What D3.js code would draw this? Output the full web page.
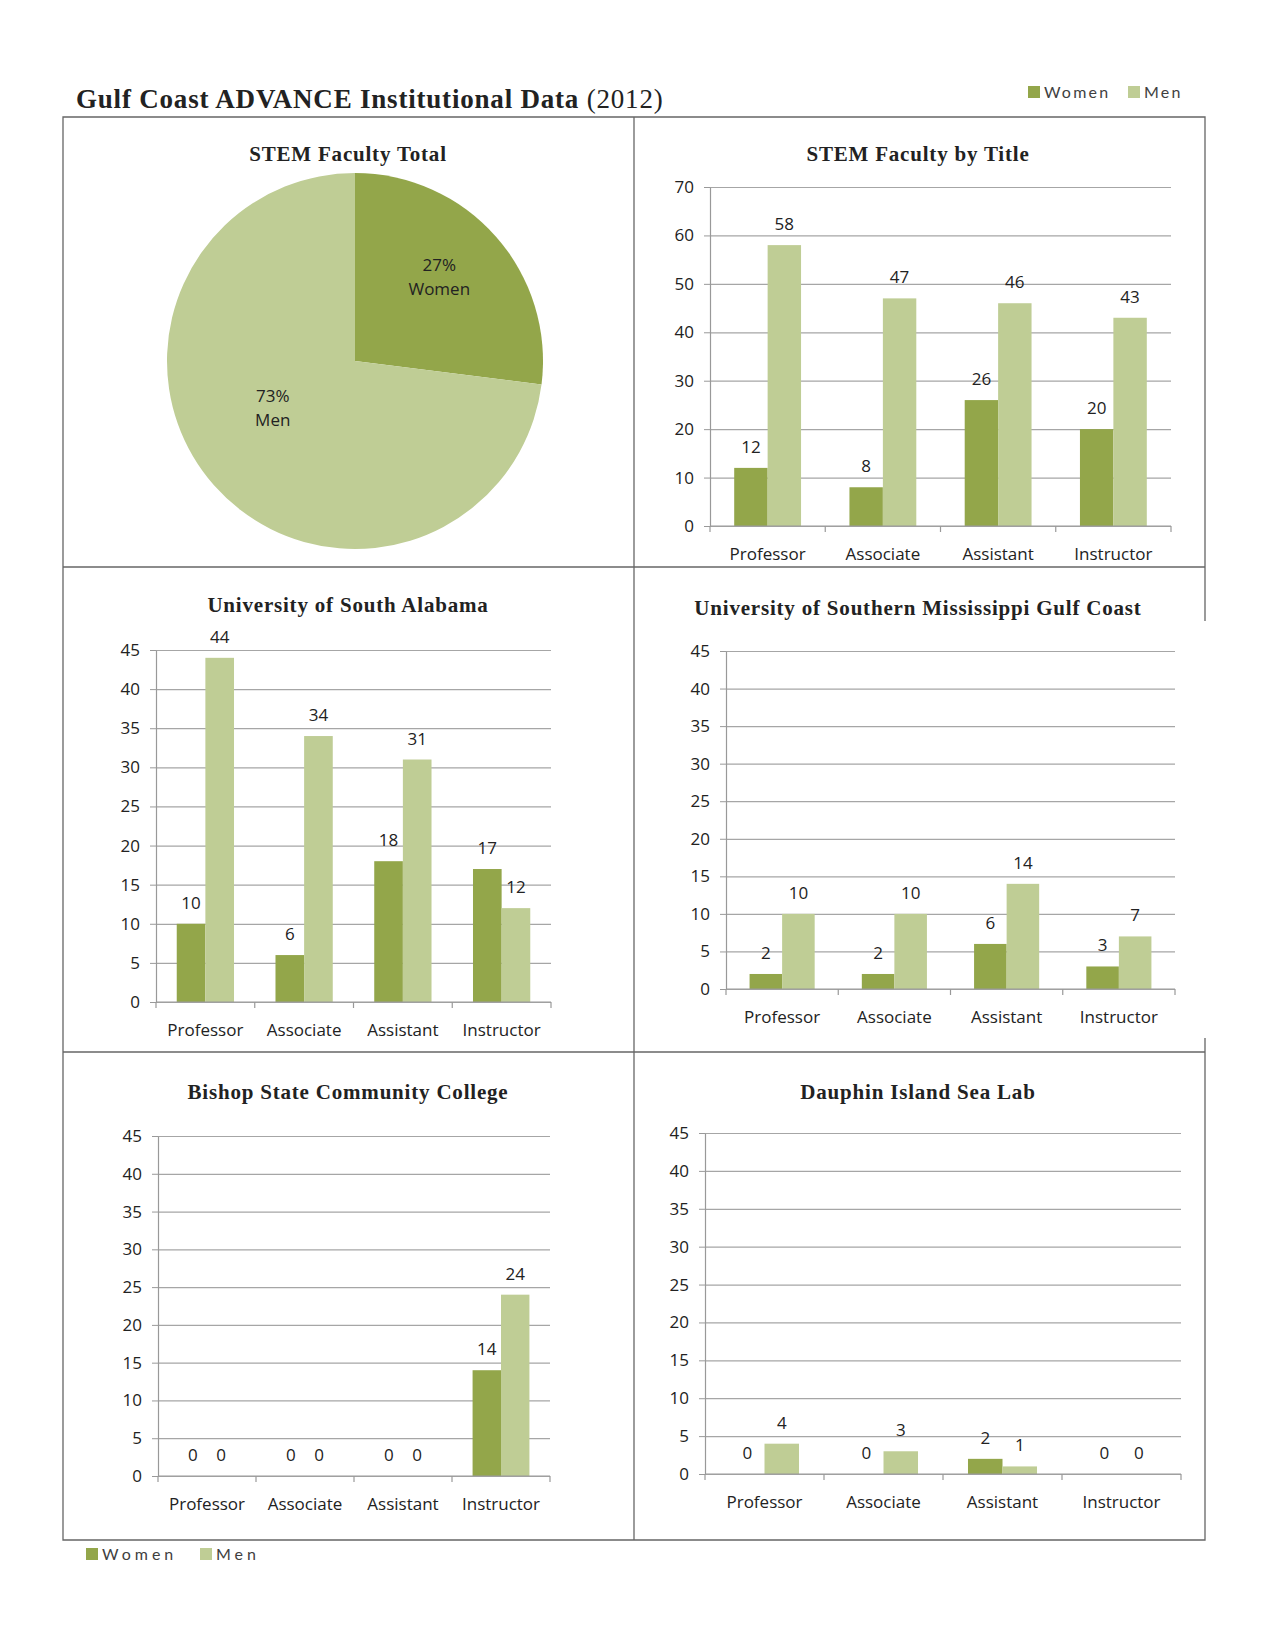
<!DOCTYPE html>
<html>

<body style="margin:0;background:#fff">
    <div id="vizDiv"></div>

    <script src="https://d3js.org/d3.v7.min.js"></script>
    <script>
        // data
        const categories = ['Professor', 'Associate', 'Assistant', 'Instructor'];
        const series = ['Women', 'Men'];
        const pieLabels = ['Women', 'Men'];
        const piePercent = [27, 73];

        const titleWomen = [12, 8, 26, 20];
        const titleMen = [58, 47, 46, 43];
        const usaWomen = [10, 6, 18, 17];
        const usaMen = [44, 34, 31, 12];
        const usmWomen = [2, 2, 6, 3];
        const usmMen = [10, 10, 14, 7];
        const bishopWomen = [0, 0, 0, 14];
        const bishopMen = [0, 0, 0, 24];
        const dislWomen = [0, 0, 2, 0];
        const dislMen = [4, 3, 1, 0];

        const ticks70 = [0, 10, 20, 30, 40, 50, 60, 70];
        const ticks45 = [0, 5, 10, 15, 20, 25, 30, 35, 40, 45];

        const colors = { Women: '#93a64a', Men: '#bfcd95' };
        const serif = '"Liberation Serif", "Times New Roman", serif';
        const sans = '"Open Sans", Lato, sans-serif';

        const svg = d3
            .select("#vizDiv")
            .append('svg')
            .attr('width', 1275)
            .attr('height', 1651);

        // frame (right edge has a gap beside the USM panel, as in the original)
        const frame = svg.append('g')
            .attr('stroke', '#666')
            .attr('stroke-width', 1.3)
            .attr('fill', 'none');
        frame.append('path').attr('d', 'M1205,621 L1205,117 L63,117 L63,1540 L1205,1540 L1205,1038');
        frame.append('line').attr('x1', 634).attr('x2', 634).attr('y1', 117).attr('y2', 1540);
        frame.append('line').attr('x1', 63).attr('x2', 1205).attr('y1', 567).attr('y2', 567);
        frame.append('line').attr('x1', 63).attr('x2', 1205).attr('y1', 1052).attr('y2', 1052);

        // main title
        const mt = svg.append('text')
            .attr('x', 76).attr('y', 108)
            .style('font-family', serif)
            .style('font-size', '27px')
            .style('letter-spacing', '0.8px')
            .style('fill', '#222');
        mt.append('tspan').style('font-weight', 'bold').text('Gulf Coast ADVANCE Institutional Data ');
        mt.append('tspan').style('font-weight', 'normal').text('(2012)');

        // legends
        function legend(x, y, gap, spacing) {
            const g = svg.append('g').attr('transform', `translate(${x},${y})`);
            series.forEach((s, i) => {
                const gi = g.append('g').attr('transform', `translate(${i * gap},0)`);
                gi.append('rect').attr('x', 0).attr('y', -6).attr('width', 12).attr('height', 12).attr('fill', colors[s]);
                gi.append('text').attr('x', 16).attr('y', 6)
                    .style('font-family', 'Lato, sans-serif').style('font-size', '16px')
                    .style('letter-spacing', spacing + 'px')
                    .style('fill', '#404040').text(s);
            });
        }
        legend(1028, 92, 100, 2.2);
        legend(86, 1554, 114, 4);

        function panelTitle(x, y, t) {
            svg.append('text').attr('x', x).attr('y', y)
                .attr('text-anchor', 'middle')
                .style('font-family', serif).style('font-weight', 'bold')
                .style('font-size', '21px').style('letter-spacing', '0.8px')
                .style('fill', '#222')
                .text(t);
        }

        // pie
        panelTitle(348, 161, 'STEM Faculty Total');
        const pie = d3.pie().sort(null)(piePercent);
        const arc = d3.arc().innerRadius(0).outerRadius(188);
        const pg = svg.append('g').attr('transform', 'translate(355,361)');
        pg.selectAll('path')
            .data(pie)
            .enter()
            .append('path')
            .attr('d', arc)
            .attr('fill', (d, i) => colors[pieLabels[i]]);
        const labelArc = d3.arc().innerRadius(115).outerRadius(115);
        const nudge = [[-2, -14], [4, -35]];
        pg.selectAll('.pl')
            .data(pie)
            .enter()
            .append('text')
            .attr('class', 'pl')
            .attr('transform', (d, i) => {
                const c = labelArc.centroid(d);
                return `translate(${c[0] + nudge[i][0]},${c[1] + nudge[i][1]})`;
            })
            .attr('text-anchor', 'middle')
            .style('font-family', sans).style('font-size', '17px').style('fill', '#222')
            .each(function (d, i) {
                const t = d3.select(this);
                t.append('tspan').attr('x', 0).attr('y', 0).text(piePercent[i] + '%');
                t.append('tspan').attr('x', 0).attr('y', 24).text(pieLabels[i]);
            });

        // bar panels
        function barPanel(cfg) {
            panelTitle(cfg.cx, cfg.titleY, cfg.title);
            const x = d3.scaleBand().domain(categories).range([cfg.x0, cfg.x1]);
            const inner = d3.scaleBand().domain(series)
                .range([x.bandwidth() * 0.21, x.bandwidth() * 0.79]);
            const y = d3.scaleLinear().domain([0, cfg.max]).range([cfg.y0, cfg.yTop]);

            const g = svg.append('g');

            // grid
            g.append('g')
                .attr('transform', `translate(${cfg.x0},0)`)
                .call(d3.axisLeft(y).tickValues(cfg.ticks).tickSize(-(cfg.x1 - cfg.x0)).tickFormat(''))
                .call(a => a.select('.domain').remove())
                .selectAll('line').attr('stroke', '#a6a6a6').attr('stroke-width', 1.2);

            // y axis
            const ya = g.append('g')
                .attr('transform', `translate(${cfg.x0},0)`)
                .call(d3.axisLeft(y).tickValues(cfg.ticks).tickSize(6).tickPadding(10).tickSizeOuter(0));
            ya.select('.domain').attr('stroke', '#999').attr('stroke-width', 1.2);
            ya.selectAll('line').attr('stroke', '#999');
            ya.selectAll('text').style('font-family', sans).style('font-size', '17px').style('fill', '#222');

            // bars
            const rows = categories.map((c, i) => ({ cat: c, Women: cfg.women[i], Men: cfg.men[i] }));
            const grp = g.selectAll('.grp')
                .data(rows)
                .enter()
                .append('g')
                .attr('transform', d => `translate(${x(d.cat)},0)`);
            grp.selectAll('rect')
                .data(d => series.map(s => ({ s: s, v: d[s] })))
                .enter()
                .append('rect')
                .attr('x', d => inner(d.s))
                .attr('width', inner.bandwidth())
                .attr('y', d => y(d.v))
                .attr('height', d => cfg.y0 - y(d.v))
                .attr('fill', d => colors[d.s]);
            grp.selectAll('.val')
                .data(d => series.map(s => ({ s: s, v: d[s] })))
                .enter()
                .append('text')
                .attr('class', 'val')
                .attr('x', d => inner(d.s) + inner.bandwidth() / 2)
                .attr('y', d => y(d.v) - 15)
                .attr('text-anchor', 'middle')
                .style('font-family', sans).style('font-size', '17px').style('fill', '#222')
                .text(d => d.v);

            // x axis
            g.append('line')
                .attr('x1', cfg.x0).attr('x2', cfg.x1)
                .attr('y1', cfg.y0).attr('y2', cfg.y0)
                .attr('stroke', '#999').attr('stroke-width', 1.2);
            const edges = categories.map(c => x(c)).concat([x.range()[1]]);
            g.selectAll('.xt')
                .data(edges)
                .enter()
                .append('line')
                .attr('x1', d => d).attr('x2', d => d)
                .attr('y1', cfg.y0).attr('y2', cfg.y0 + 6)
                .attr('stroke', '#999').attr('stroke-width', 1.2);
            g.selectAll('.xl')
                .data(categories)
                .enter()
                .append('text')
                .attr('x', d => x(d) + x.bandwidth() / 2)
                .attr('y', cfg.y0 + 34)
                .attr('text-anchor', 'middle')
                .style('font-family', sans).style('font-size', '17px').style('fill', '#222')
                .text(d => d);
        }

        barPanel({ title: 'STEM Faculty by Title', cx: 918, titleY: 161, x0: 710, x1: 1171, y0: 526, yTop: 187, max: 70, ticks: ticks70, women: titleWomen, men: titleMen });
        barPanel({ title: 'University of South Alabama', cx: 348, titleY: 612, x0: 156, x1: 551, y0: 1002, yTop: 650, max: 45, ticks: ticks45, women: usaWomen, men: usaMen });
        barPanel({ title: 'University of Southern Mississippi Gulf Coast', cx: 918, titleY: 615, x0: 726, x1: 1175, y0: 989, yTop: 651, max: 45, ticks: ticks45, women: usmWomen, men: usmMen });
        barPanel({ title: 'Bishop State Community College', cx: 348, titleY: 1099, x0: 158, x1: 550, y0: 1476, yTop: 1136, max: 45, ticks: ticks45, women: bishopWomen, men: bishopMen });
        barPanel({ title: 'Dauphin Island Sea Lab', cx: 918, titleY: 1099, x0: 705, x1: 1181, y0: 1474, yTop: 1133, max: 45, ticks: ticks45, women: dislWomen, men: dislMen });
    </script>
</body>

</html>
